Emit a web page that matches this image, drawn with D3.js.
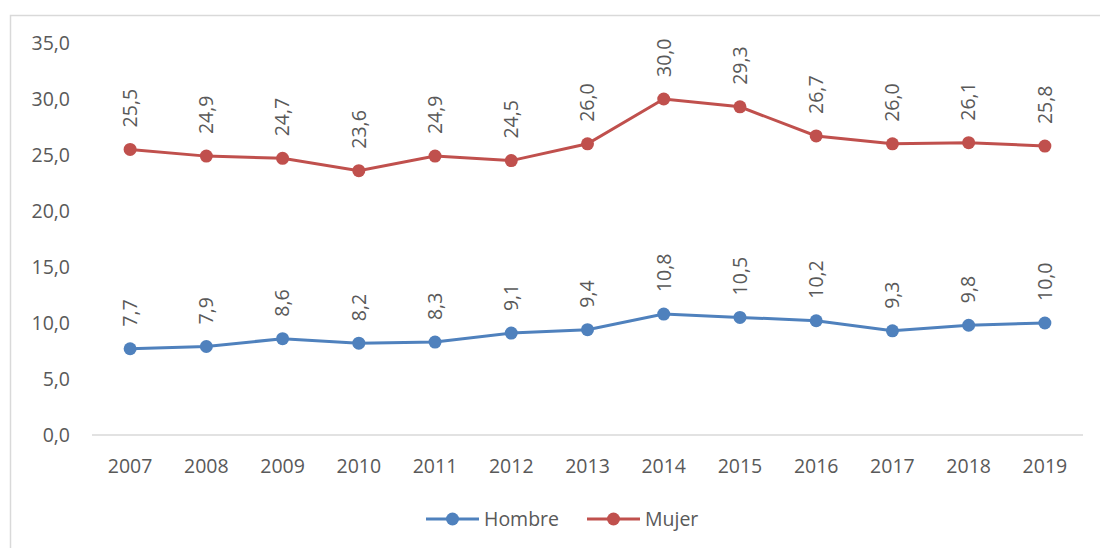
<!DOCTYPE html>
<html>
<head>
<meta charset="utf-8">
<script src="https://cdn.jsdelivr.net/npm/d3@7"></script>
<style>
  body { margin: 0; background: #fff; }
  svg text { font-family: "Open Sans", "Liberation Sans", sans-serif; fill: #595959; }
</style>
</head>
<body>
<svg id="chart" width="1100" height="548"></svg>
<script>
var years = ["2007","2008","2009","2010","2011","2012","2013","2014","2015","2016","2017","2018","2019"];
var hombre = [7.7, 7.9, 8.6, 8.2, 8.3, 9.1, 9.4, 10.8, 10.5, 10.2, 9.3, 9.8, 10.0];
var mujer = [25.5, 24.9, 24.7, 23.6, 24.9, 24.5, 26.0, 30.0, 29.3, 26.7, 26.0, 26.1, 25.8];
var yTicks = [0, 5, 10, 15, 20, 25, 30, 35];
var seriesNames = ["Hombre", "Mujer"];
var colors = ["#4F81BD", "#C0504D"];

var svg = d3.select("#chart");
var fmt = function(v) { return v.toFixed(1).replace(".", ","); };
var fs = 19.5;

// outer border
svg.append("rect")
  .attr("x", 10.5).attr("y", 15.5)
  .attr("width", 1100).attr("height", 560)
  .attr("fill", "none").attr("stroke", "#d9d9d9").attr("stroke-width", 1.5);

var x = d3.scalePoint().domain(years).range([92, 1083]).padding(0.5);
var y = d3.scaleLinear().domain([0, 35]).range([435, 43]);

// baseline
svg.append("line")
  .attr("x1", 92).attr("x2", 1083)
  .attr("y1", y(0)).attr("y2", y(0))
  .attr("stroke", "#d9d9d9").attr("stroke-width", 1.5);

// y labels
svg.selectAll("text.ytick").data(yTicks).enter().append("text")
  .attr("class", "ytick")
  .attr("x", 70).attr("y", function(d) { return y(d); })
  .attr("dy", "0.35em")
  .attr("text-anchor", "end")
  .attr("font-size", fs)
  .text(fmt);

// x labels
svg.selectAll("text.xtick").data(years).enter().append("text")
  .attr("class", "xtick")
  .attr("x", function(d) { return x(d); })
  .attr("y", 466).attr("dy", "0.35em")
  .attr("text-anchor", "middle")
  .attr("font-size", fs)
  .text(function(d) { return d; });

var line = d3.line()
  .x(function(d, i) { return x(years[i]); })
  .y(function(d) { return y(d); });

[hombre, mujer].forEach(function(vals, k) {
  var g = svg.append("g");
  g.append("path").datum(vals)
    .attr("d", line)
    .attr("fill", "none")
    .attr("stroke", colors[k]).attr("stroke-width", 3);
  g.selectAll("circle").data(vals).enter().append("circle")
    .attr("cx", function(d, i) { return x(years[i]); })
    .attr("cy", function(d) { return y(d); })
    .attr("r", 6.5)
    .attr("fill", colors[k]);
  g.selectAll("text").data(vals).enter().append("text")
    .attr("transform", function(d, i) {
      return "translate(" + x(years[i]) + "," + (y(d) - 22) + ") rotate(-90)";
    })
    .attr("dy", "0.35em")
    .attr("text-anchor", "start")
    .attr("font-size", fs)
    .text(fmt);
});

// legend
var legX = [426, 587];
seriesNames.forEach(function(name, k) {
  var lg = svg.append("g").attr("transform", "translate(" + legX[k] + ",519)");
  lg.append("line").attr("x1", 0).attr("x2", 53).attr("y1", 0).attr("y2", 0)
    .attr("stroke", colors[k]).attr("stroke-width", 3);
  lg.append("circle").attr("cx", 26.5).attr("cy", 0).attr("r", 6.5).attr("fill", colors[k]);
  lg.append("text").attr("x", 58).attr("y", 0).attr("dy", "0.35em")
    .attr("font-size", fs).text(name);
});
</script>
</body>
</html>
